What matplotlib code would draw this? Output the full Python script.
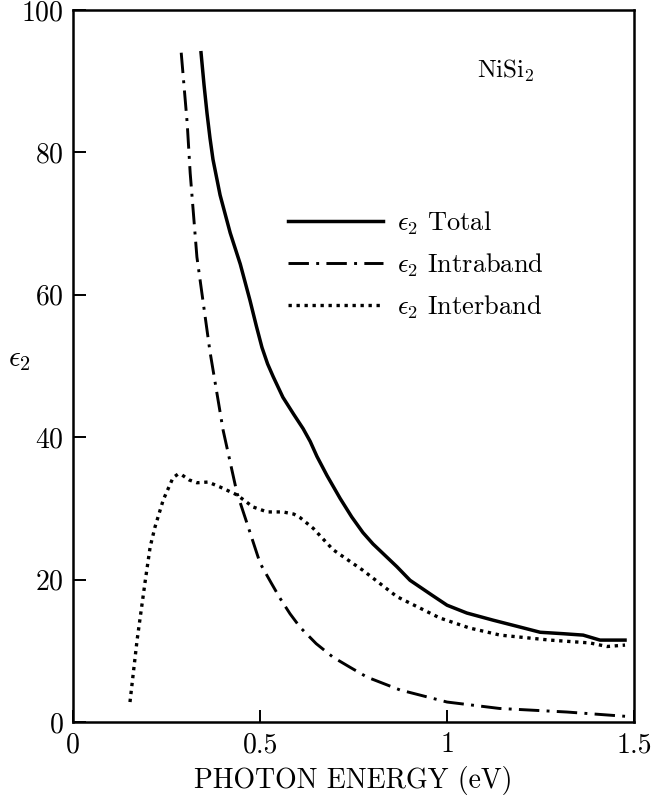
import matplotlib
matplotlib.use("Agg")
import matplotlib.pyplot as plt

plt.rcParams["font.family"] = "cmr10"
plt.rcParams["mathtext.fontset"] = "cm"
plt.rcParams["axes.unicode_minus"] = False
plt.rcParams["axes.formatter.use_mathtext"] = True

# epsilon_2 spectra of NiSi2 (photon energy in eV)
total_e = [0.342, 0.350, 0.358, 0.366, 0.374, 0.393, 0.420, 0.447, 0.473, 0.490,
           0.505, 0.520, 0.535, 0.561, 0.590, 0.615, 0.634, 0.652, 0.679, 0.714,
           0.745, 0.775, 0.802, 0.866, 0.901, 0.960, 1.000, 1.053, 1.123, 1.190,
           1.249, 1.310, 1.364, 1.409, 1.476]
total_eps = [94.0, 89.5, 85.5, 82.0, 79.0, 74.0, 68.7, 64.3, 59.2, 55.6,
             52.6, 50.3, 48.5, 45.6, 43.2, 41.2, 39.4, 37.3, 34.6, 31.4,
             28.8, 26.6, 25.0, 21.8, 19.9, 17.8, 16.4, 15.3, 14.3, 13.4,
             12.6, 12.4, 12.2, 11.5, 11.5]

intra_e = [0.289, 0.305, 0.313, 0.331, 0.366, 0.401, 0.438, 0.465, 0.500, 0.530,
           0.553, 0.580, 0.607, 0.650, 0.695, 0.740, 0.786, 0.874, 1.000, 1.140,
           1.320, 1.476]
intra_eps = [94.0, 84.1, 77.1, 65.3, 52.0, 41.0, 32.2, 27.9, 22.3, 19.5,
             17.4, 15.2, 13.3, 11.0, 9.1, 7.7, 6.3, 4.5, 2.8, 1.9,
             1.4, 0.8]

inter_e = [0.152, 0.171, 0.193, 0.206, 0.219, 0.241, 0.267, 0.280, 0.291, 0.310,
           0.331, 0.361, 0.393, 0.438, 0.481, 0.519, 0.561, 0.590, 0.607, 0.642,
           0.695, 0.775, 0.866, 0.981, 1.060, 1.142, 1.275, 1.382, 1.428, 1.476]
inter_eps = [2.8, 11.5, 19.9, 24.6, 27.4, 31.2, 34.3, 34.8, 34.7, 34.0,
             33.6, 33.7, 33.0, 31.9, 30.2, 29.5, 29.5, 29.2, 28.7, 27.2,
             24.2, 21.3, 17.6, 14.6, 13.2, 12.2, 11.5, 11.1, 10.6, 10.8]

x_ticks = [0, 0.5, 1, 1.5]
x_labels = ["0", "0.5", "1", "1.5"]
y_ticks = [0, 20, 40, 60, 80, 100]

fig = plt.figure(figsize=(6.65, 7.99), dpi=100)
ax = fig.add_axes([0.110, 0.0964, 0.8434, 0.8911])

ax.plot(total_e, total_eps, color="black", lw=2.5, solid_joinstyle="round",
        label=r"$\epsilon_2$ Total")
ax.plot(intra_e, intra_eps, color="black", lw=2.1, dashes=(7, 2.5, 1, 2.5),
        label=r"$\epsilon_2$ Intraband")
ax.plot(inter_e, inter_eps, color="black", lw=2.4, dashes=(1, 1.4),
        label=r"$\epsilon_2$ Interband")

ax.set_xlim(0, 1.5)
ax.set_ylim(0, 100)
ax.set_xticks(x_ticks)
ax.set_xticklabels(x_labels)
ax.set_yticks(y_ticks)
ax.tick_params(direction="in", length=9, width=1.4, labelsize=20, pad=7)
for s in ax.spines.values():
    s.set_linewidth(1.8)

ax.set_xlabel("PHOTON ENERGY (eV)", fontsize=20, labelpad=6)
ax.set_ylabel(r"$\epsilon_2$", fontsize=21, rotation=0)
ax.yaxis.set_label_coords(-0.095, 0.49)

ax.text(0.72, 0.915, r"NiSi$_2$", transform=ax.transAxes, fontsize=18,
        ha="left", va="center")

ax.legend(loc="upper left", bbox_to_anchor=(0.365, 0.735), frameon=False,
          fontsize=19, handlelength=3.6, handletextpad=0.5, labelspacing=0.55,
          borderaxespad=0)

fig.savefig("out.png", dpi=100)
